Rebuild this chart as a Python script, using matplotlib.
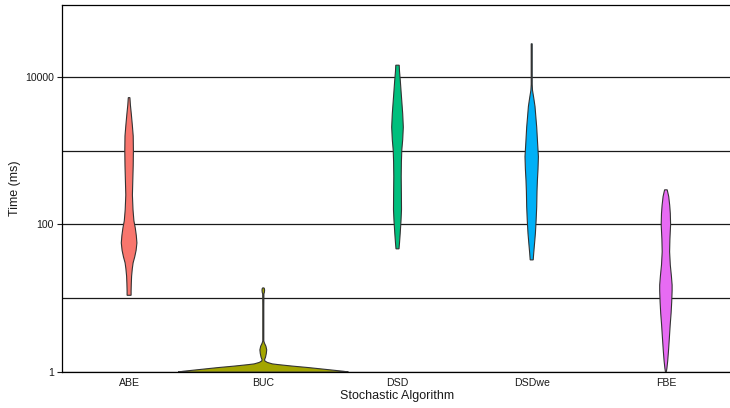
import numpy as np
import matplotlib
matplotlib.use("Agg")
import matplotlib.pyplot as plt

plt.rcParams['font.family'] = ['Liberation Sans', 'DejaVu Sans']

categories = ["ABE", "BUC", "DSD", "DSDwe", "FBE"]
colors = ["#F8766D", "#A3A500", "#00BF7D", "#00B0F6", "#E76BF3"]

# violin outlines: log10(time in ms) and half-width (in px of 134 px per category)
abe_log = [1.04, 1.10, 1.20, 1.30, 1.40, 1.48, 1.56, 1.65, 1.75, 1.85, 1.95, 2.05, 2.20, 2.40, 2.60, 2.80, 3.00, 3.20, 3.35, 3.50, 3.62, 3.72]
abe_hw = [2.0, 2.0, 2.2, 2.5, 3.2, 4.0, 5.6, 7.0, 7.8, 7.2, 6.2, 4.8, 3.9, 3.3, 3.7, 4.1, 4.3, 4.1, 3.2, 2.2, 1.3, 0.8]

buc_log = [0.0, 0.01, 0.04, 0.06, 0.08, 0.10, 0.11, 0.13, 0.15, 0.17, 0.20, 0.25, 0.30, 0.35, 0.39, 0.42, 0.60, 0.90, 1.06, 1.08, 1.11, 1.13, 1.14]
buc_hw = [85.0, 80.0, 59.0, 45.0, 29.0, 15.0, 9.0, 4.0, 1.5, 1.3, 2.2, 3.0, 3.4, 2.6, 1.2, 0.5, 0.5, 0.5, 0.6, 1.1, 1.3, 1.1, 0.6]

dsd_log = [1.67, 1.75, 1.88, 2.05, 2.20, 2.40, 2.65, 2.85, 3.01, 3.15, 3.32, 3.50, 3.65, 3.78, 3.95, 4.08, 4.16]
dsd_hw = [1.5, 2.0, 2.7, 3.5, 4.0, 3.9, 3.7, 3.9, 4.3, 5.2, 5.8, 5.2, 4.4, 3.7, 2.8, 2.0, 1.7]

dswe_log = [1.52, 1.61, 1.75, 1.88, 2.05, 2.24, 2.45, 2.60, 2.75, 2.92, 3.10, 3.32, 3.45, 3.60, 3.72, 3.82, 3.90, 4.10, 4.30, 4.45]
dswe_hw = [1.5, 2.0, 2.9, 3.7, 4.4, 5.0, 5.3, 5.7, 6.3, 6.7, 5.9, 5.0, 4.2, 3.3, 2.0, 0.8, 0.5, 0.5, 0.5, 0.5]

fbe_log = [0.0, 0.05, 0.15, 0.27, 0.45, 0.64, 0.80, 0.95, 1.10, 1.18, 1.30, 1.45, 1.63, 1.80, 2.00, 2.15, 2.26, 2.38, 2.47]
fbe_hw = [0.4, 1.0, 1.8, 2.5, 3.4, 4.3, 5.2, 5.8, 6.2, 6.2, 5.5, 4.4, 3.7, 4.0, 4.7, 4.4, 3.8, 2.8, 1.3]

profiles = [(abe_log, abe_hw), (buc_log, buc_hw), (dsd_log, dsd_hw), (dswe_log, dswe_hw), (fbe_log, fbe_hw)]

y_ticks = [1, 100, 10000]
y_grid = [1, 10, 100, 1000, 10000]

fig = plt.figure(figsize=(7.3, 4.08), dpi=100)
ax = fig.add_axes([62/730, 1 - 372/408, (733 - 62)/730, (372 - 5)/408])
ax.set_yscale('log')

for yv in y_grid:
    ax.axhline(yv, color='#1a1a1a', lw=0.9, zorder=1)

px_per_cat = 134.0
for i, ((lg, hw), col) in enumerate(zip(profiles, colors)):
    pos = i + 1
    y = 10 ** np.array(lg)
    w = np.array(hw) / px_per_cat
    xs = np.concatenate([pos - w, (pos + w)[::-1]])
    ys = np.concatenate([y, y[::-1]])
    ax.fill(xs, ys, facecolor=col, edgecolor='#333333', lw=0.8, zorder=3)

ax.set_xlim(0.5, 5.5)
ax.set_ylim(1, 10 ** 4.976)
ax.set_xticks(range(1, 6))
ax.set_xticklabels(categories)
ax.set_yticks(y_ticks)
ax.set_yticklabels([str(t) for t in y_ticks])
ax.yaxis.set_minor_locator(matplotlib.ticker.NullLocator())
ax.tick_params(axis='both', labelsize=7.6, colors='#1a1a1a', length=3.5, width=0.8, pad=2.5)
ax.tick_params(axis='x', length=0, pad=4)

for side in ['right']:
    ax.spines[side].set_visible(False)
for side in ['left', 'top', 'bottom']:
    ax.spines[side].set_color('#000000')
    ax.spines[side].set_linewidth(0.9)

ax.set_xlabel("Stochastic Algorithm", fontsize=9, color='#1a1a1a', labelpad=2)
ax.set_ylabel("Time (ms)", fontsize=9, color='#1a1a1a', labelpad=3)

fig.savefig("out.png", dpi=100)
